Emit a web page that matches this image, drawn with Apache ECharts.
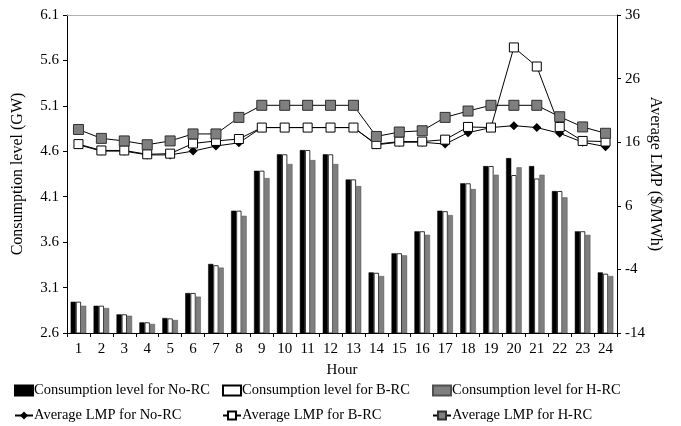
<!DOCTYPE html>
<html>
<head>
<meta charset="utf-8">
<script src="https://cdn.jsdelivr.net/npm/echarts@6/dist/echarts.min.js"></script>
<style>html,body{margin:0;padding:0;background:#fff;}#c{width:681px;height:426px;}</style>
</head>
<body>
<div id="c"></div>
<script>
var hours = ['1','2','3','4','5','6','7','8','9','10','11','12','13','14','15','16','17','18','19','20','21','22','23','24'];
var consNo = [2.944, 2.90, 2.805, 2.717, 2.765, 3.04, 3.36, 3.946, 4.386, 4.566, 4.613, 4.566, 4.29, 3.267, 3.477, 3.719, 3.946, 4.247, 4.437, 4.525, 4.437, 4.162, 3.719, 3.267];
var consB  = [2.944, 2.90, 2.805, 2.717, 2.76, 3.04, 3.345, 3.946, 4.386, 4.566, 4.613, 4.566, 4.29, 3.262, 3.477, 3.719, 3.94, 4.247, 4.437, 4.338, 4.30, 4.162, 3.719, 3.252];
var consH  = [2.90, 2.875, 2.79, 2.70, 2.743, 3.0, 3.32, 3.89, 4.305, 4.46, 4.503, 4.46, 4.217, 3.227, 3.455, 3.681, 3.898, 4.184, 4.342, 4.423, 4.342, 4.093, 3.68, 3.227];
var lmpNo = [15.6, 14.6, 14.6, 14.0, 14.0, 14.6, 15.4, 15.9, 18.3, 18.3, 18.3, 18.3, 18.3, 15.6, 16.0, 16.0, 15.7, 17.5, 18.3, 18.6, 18.3, 17.4, 16.0, 15.3];
var lmpB  = [15.7, 14.7, 14.7, 14.1, 14.2, 15.8, 16.2, 16.5, 18.3, 18.3, 18.3, 18.3, 18.3, 15.7, 16.1, 16.1, 16.4, 18.4, 18.3, 30.9, 27.9, 18.4, 16.2, 16.1];
var lmpH  = [18.0, 16.6, 16.2, 15.6, 16.2, 17.3, 17.3, 19.9, 21.8, 21.8, 21.8, 21.8, 21.8, 16.9, 17.6, 17.8, 19.9, 20.9, 21.8, 21.8, 21.8, 20.0, 18.4, 17.4];

var names = ['Consumption level for No-RC','Consumption level for B-RC','Consumption level for H-RC',
             'Average LMP for No-RC','Average LMP for B-RC','Average LMP for H-RC'];
var FONT = 'Liberation Serif';
var chart = echarts.init(document.getElementById('c'), null, {renderer:'canvas'});
function lg(name, left, top, isBar){
  var o = {data:[name], left:left, top:top, orient:'horizontal', itemWidth:18, itemHeight:10, itemGap:0,
          textStyle:{fontFamily:FONT, fontSize:14.5, color:'#000', padding:[0,0,0,-4]}, selectedMode:false};
  if (isBar) o.icon = 'rect';
  return o;
}
var option = {
  animation:false,
  backgroundColor:'#fff',
  textStyle:{fontFamily:FONT},
  grid:{left:67, right:64, top:15, bottom:93, containLabel:false},
  legend:[
    lg(names[0], 9, 378, true), lg(names[1], 217, 378, true), lg(names[2], 427, 378, true),
    lg(names[3], 9, 403), lg(names[4], 217, 403), lg(names[5], 427, 403)
  ],
  xAxis:[{
    type:'category', data:hours, position:'bottom',
    name:'Hour', nameLocation:'middle', nameGap:30,
    nameTextStyle:{fontFamily:FONT, fontSize:15, color:'#000'},
    axisLine:{onZero:false, lineStyle:{color:'#000', width:1}},
    axisTick:{show:true, inside:false, length:4, lineStyle:{color:'#000'}},
    axisLabel:{fontFamily:FONT, fontSize:15, color:'#000', margin:9},
    splitLine:{show:false}
  },{
    type:'category', data:hours, position:'top',
    axisLine:{onZero:false, lineStyle:{color:'#b0b0b0', width:1}},
    axisTick:{show:false}, axisLabel:{show:false}, splitLine:{show:false}
  }],
  yAxis:[{
    type:'value', min:2.6, max:6.1, interval:0.5, position:'left',
    name:'Consumption level (GW)', nameLocation:'middle', nameGap:41, nameRotate:90,
    nameTextStyle:{fontFamily:FONT, fontSize:16, color:'#000'},
    axisLine:{show:true, onZero:false, lineStyle:{color:'#000', width:1}},
    axisTick:{show:true, inside:false, length:4, lineStyle:{color:'#000'}},
    axisLabel:{fontFamily:FONT, fontSize:15, color:'#000', margin:8,
      formatter:function(v){return v.toFixed(1);}},
    splitLine:{show:false}
  },{
    type:'value', min:-14, max:36, interval:10, position:'right',
    name:'Average LMP ($/MWh)', nameLocation:'middle', nameGap:30, nameRotate:-90, nameMoveOverlap:false,
    nameTextStyle:{fontFamily:FONT, fontSize:16, color:'#000'},
    axisLine:{show:true, onZero:false, lineStyle:{color:'#000', width:1}},
    axisTick:{show:true, inside:false, length:4, lineStyle:{color:'#000'}},
    axisLabel:{fontFamily:FONT, fontSize:15, color:'#000', margin:8},
    splitLine:{show:false}
  }],
  series:[
    {name:names[0], type:'bar', data:consNo, yAxisIndex:0, barGap:'0%', barCategoryGap:'32%',
     itemStyle:{color:'#000', borderColor:'#000', borderWidth:0.5}},
    {name:names[1], type:'bar', data:consB, yAxisIndex:0, barGap:'0%', barCategoryGap:'32%',
     itemStyle:{color:'#fff', borderColor:'#000', borderWidth:0.8}},
    {name:names[2], type:'bar', data:consH, yAxisIndex:0, barGap:'0%', barCategoryGap:'32%',
     itemStyle:{color:'#7f7f7f', borderColor:'#505050', borderWidth:0.5}},
    {name:names[3], type:'line', data:lmpNo, yAxisIndex:1, symbol:'diamond', symbolSize:9,
     lineStyle:{color:'#000', width:1}, itemStyle:{color:'#000', borderColor:'#000', borderWidth:0}, z:3},
    {name:names[4], type:'line', data:lmpB, yAxisIndex:1, symbol:'rect', symbolSize:9,
     lineStyle:{color:'#000', width:1}, itemStyle:{color:'#fff', borderColor:'#000', borderWidth:1}, z:4},
    {name:names[5], type:'line', data:lmpH, yAxisIndex:1, symbol:'rect', symbolSize:10,
     lineStyle:{color:'#000', width:1}, itemStyle:{color:'#7f7f7f', borderColor:'#303030', borderWidth:1}, z:5}
  ]
};
chart.setOption(option);
</script>
</body>
</html>
